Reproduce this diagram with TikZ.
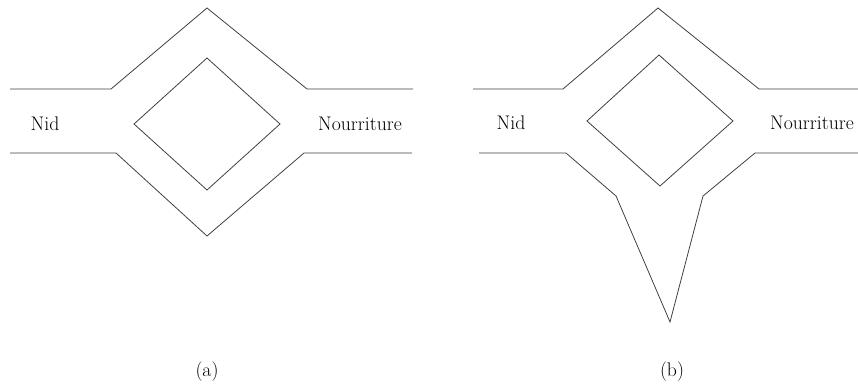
\documentclass[tikz,border=0pt]{standalone}
\usepackage{tikz}
\usetikzlibrary{positioning, calc}

\begin{document}
\begin{tikzpicture} [x=1pt,y=-1pt,font=\fontsize{19.7}{23}\selectfont,
	route/.style={draw=black!75,line width=0.8pt,line join=miter}]
	\useasboundingbox (0,0) rectangle (858,383);
	% (a)
	\node [anchor=center] (nida) at (45,124) {Nid};
	\node [anchor=center] (foodA) at (360,124) {Nourriture};
	\node [anchor=center] (capa) at (207,372) {(a)};
	\draw [route] (10,89) -- (111,89) -- (207,8) -- (307,89) -- (413,89);
	\draw [route] (10,153) -- (116,153) -- (207,236) -- (304,153) -- (412,153);
	\draw [route] (207,58) -- (280,124) -- (207,190) -- (134,124) -- cycle;
	% (b)
	\node [anchor=center] (nidb) at (511,123) {Nid};
	\node [anchor=center] (foodB) at (812,123) {Nourriture};
	\node [anchor=center] (capb) at (672,372) {(b)};
	\draw [route] (473,89) -- (563,89) -- (658,8) -- (759,89) -- (858,89);
	\draw [route] (479,153) -- (566,153) -- (616,196) -- (670,322) -- (703,196) -- (755,153) -- (858,153);
	\draw [route] (659,55) -- (733,121) -- (660,186) -- (587,121) -- cycle;
\end{tikzpicture}
\end{document}
